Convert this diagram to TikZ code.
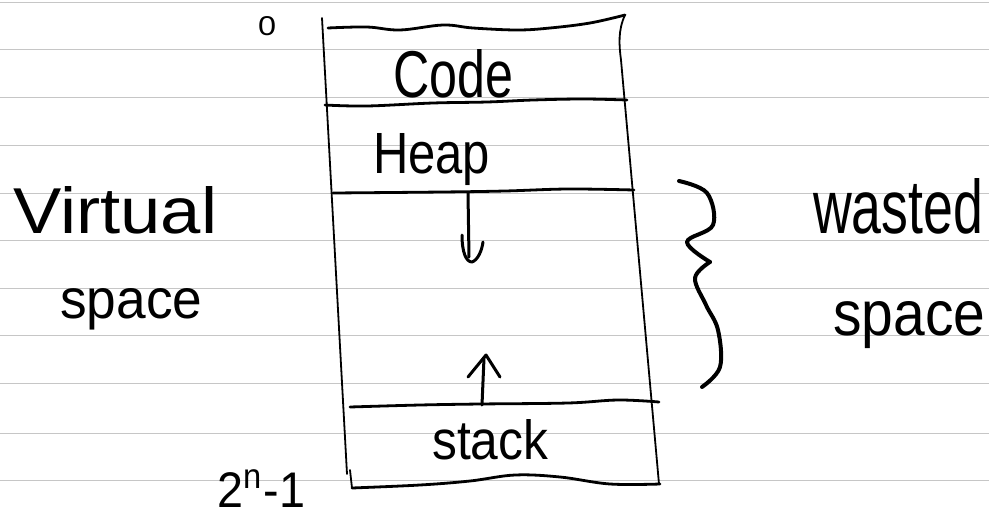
\documentclass[tikz,border=0pt]{standalone}
\usepackage{fontspec}
\setmainfont{Liberation Sans}
\usepackage{graphicx}
\newcommand\hw[3]{\resizebox{#1pt}{#2pt}{#3}}
\begin{document}
\begin{tikzpicture}[x=1pt,y=-1pt,
  rule/.style={gray!45,line width=0.8pt},
  edge/.style={line width=1.8pt,line cap=round,line join=round},
  arrowstroke/.style={line width=3pt,line cap=round,line join=round},
  divider/.style={line width=2.8pt,line cap=round,line join=round},
  bracestroke/.style={line width=4pt,line cap=round,line join=round},
  lbl/.style={inner sep=0pt,anchor=base west}]
\useasboundingbox[fill=white] (0,0) rectangle (989,520);
% ruled paper
\foreach \yy in {2,49,97,145,193,240,288,335,383,433,480}
  \draw[rule] (0,\yy) -- (989,\yy);
% labels
\node[lbl] (zero)   at (258,35)  {\hw{18}{19}{0}};
\node[lbl] (code)   at (393,97)  {\hw{120}{48}{Code}};
\node[lbl] (heap)   at (373,173) {\hw{117}{40}{Heap}};
\node[lbl] (virt)   at (13,233)  {\hw{204}{47}{Virtual}};
\node[lbl] (spaceL) at (60,318)  {\hw{142}{30}{space}};
\node[lbl] (wasted) at (813,233) {\hw{170}{55}{wasted}};
\node[lbl] (spaceR) at (833,335) {\hw{152}{34}{space}};
\node[lbl] (stack)  at (432,459) {\hw{116}{40}{stack}};
\node[lbl] (pow)    at (217,507) {\hw{88}{37}{2\textsuperscript{n}-1}};
% box sides
\draw[edge] (322,18) -- (347,474);
\draw[edge] (350,470) -- (352,488);
\draw[edge] (625,15) .. controls (618,30) and (619,45) .. (621,60) -- (659,484);
% region dividers
\draw[divider] plot[smooth,tension=0.6] coordinates {(328,28) (367,27) (400,30) (443,25) (473,28) (517,30) (550,28) (590,23) (625,15)};
\draw[divider] plot[smooth,tension=0.6] coordinates {(325,105) (367,106) (433,103) (487,102) (533,100) (583,99) (627,100)};
\draw[divider] plot[smooth,tension=0.6] coordinates {(333,193) (442,192) (505,191) (568,189) (634,190)};
\draw[divider] plot[smooth,tension=0.6] coordinates {(350,407) (420,405) (480,404) (568,403) (618,400) (659,402)};
\draw[divider] plot[smooth,tension=0.6] coordinates {(352,488) (420,485) (470,481) (515,475) (560,477) (610,484) (660,484)};
% growth arrows
\coordinate (heapgrow0) at (468,193);
\coordinate (heapgrow1) at (469,257);
\coordinate (heaptip) at (472,262);
\coordinate (stackgrow0) at (482,405);
\coordinate (stackgrow1) at (484,358);
\draw[arrowstroke] (heapgrow0) -- (heapgrow1);
\draw[arrowstroke] (462,235) .. controls (462,252) and (466,262) .. (heaptip) .. controls (478,260) and (482,250) .. (483,242);
\draw[arrowstroke] (stackgrow0) -- (stackgrow1);
\draw[arrowstroke] (468,377) -- (486,355) -- (500,377);
% brace
\draw[bracestroke] plot[smooth,tension=0.6] coordinates {(679,181) (707,193) (713,225) (687,242) (710,262)};
\draw[bracestroke] plot[smooth,tension=0.6] coordinates {(710,262) (695,278) (706,305) (718,330) (720,367) (702,387)};
\end{tikzpicture}
\end{document}
